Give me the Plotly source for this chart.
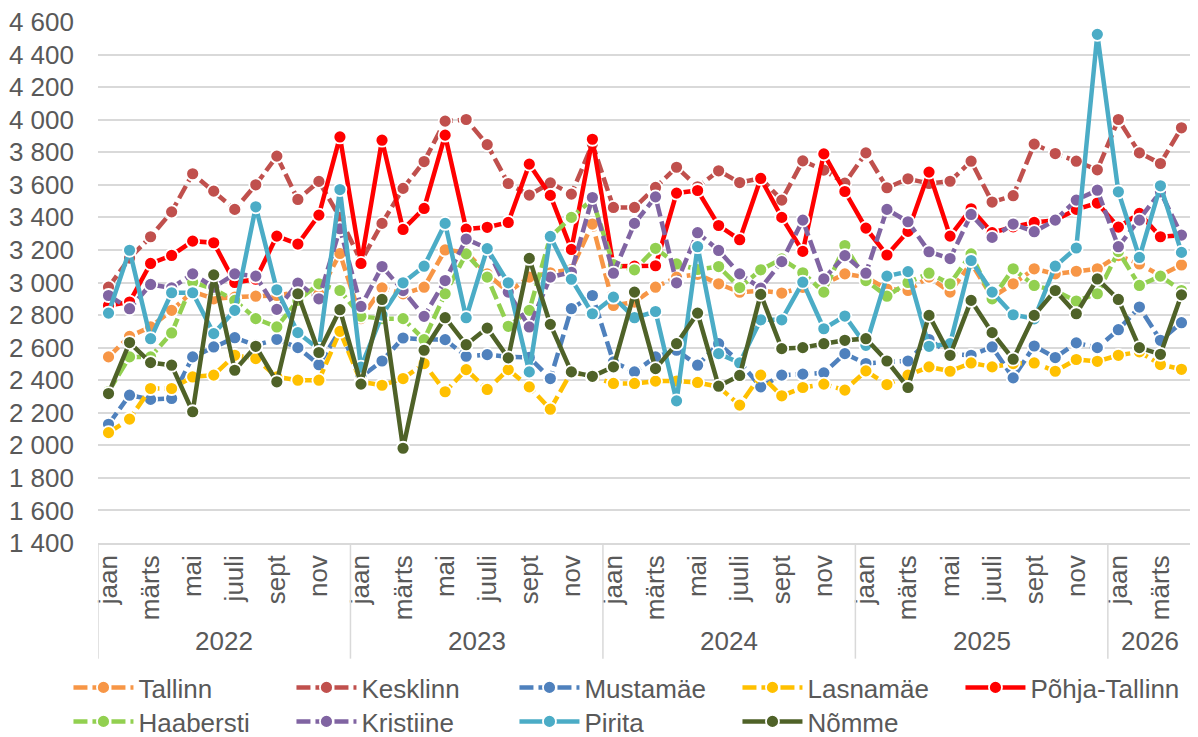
import plotly.graph_objects as go

month_names = ["jaan", "veebr", "märts", "apr", "mai", "juuni", "juuli", "aug", "sept", "okt", "nov", "dets"]
years = ["2022", "2023", "2024", "2025", "2026"]
months_per_year = [12, 12, 12, 12, 4]

tallinn = [2543, 2669, 2727, 2829, 2945, 2900, 2910, 2916, 2920, 2940, 2930, 3178,
           2778, 2967, 2930, 2971, 3200, 3186, 3053, 2941, 3033, 3060, 3080, 3359,
           2859, 2880, 2971, 3033, 3050, 2992, 2940, 2950, 2935, 2970, 2990, 3053,
           3033, 2960, 2951, 3033, 2941, 3120, 2910, 2992, 3084, 3053, 3069, 3084,
           3165, 3114, 3043, 3108]
kesklinn = [2971, 3150, 3281, 3434, 3668, 3561, 3449, 3600, 3776, 3510, 3621, 3400,
            3130, 3363, 3578, 3743, 3991, 4001, 3847, 3608, 3537, 3612, 3543, 3850,
            3461, 3461, 3584, 3708, 3588, 3686, 3614, 3640, 3506, 3747, 3690, 3610,
            3796, 3582, 3637, 3608, 3622, 3745, 3494, 3533, 3850, 3792, 3745, 3692,
            4001, 3796, 3731, 3950]
mustamae = [2129, 2308, 2282, 2288, 2543, 2604, 2661, 2615, 2651, 2600, 2495, 2706,
            2420, 2518, 2659, 2650, 2649, 2547, 2557, 2543, 2540, 2410, 2839, 2920,
            2512, 2451, 2543, 2584, 2492, 2624, 2512, 2359, 2431, 2437, 2445, 2563,
            2502, 2512, 2518, 2650, 2560, 2553, 2604, 2414, 2610, 2539, 2629, 2600,
            2710, 2849, 2645, 2753]
lasnamae = [2078, 2161, 2349, 2349, 2420, 2431, 2553, 2533, 2420, 2400, 2400, 2700,
            2390, 2369, 2410, 2502, 2329, 2465, 2343, 2465, 2359, 2222, 2450, 2420,
            2380, 2380, 2394, 2395, 2386, 2359, 2247, 2431, 2304, 2355, 2376, 2339,
            2457, 2373, 2431, 2482, 2455, 2506, 2482, 2502, 2506, 2455, 2527, 2516,
            2553, 2574, 2496, 2467]
pohja = [2859, 2880, 3117, 3166, 3254, 3244, 3000, 3020, 3285, 3236, 3414, 3894,
         3117, 3874, 3326, 3455, 3905, 3328, 3339, 3369, 3727, 3535, 3203, 3880,
         3100, 3100, 3103, 3549, 3565, 3350, 3263, 3639, 3400, 3191, 3790, 3559,
         3334, 3169, 3314, 3678, 3285, 3453, 3306, 3342, 3369, 3383, 3449, 3488,
         3340, 3424, 3281, 3290]
haabersti = [2330, 2543, 2543, 2690, 3002, 2960, 2890, 2778, 2727, 2890, 2992, 2951,
             2792, 2778, 2778, 2649, 2931, 3176, 3033, 2731, 2829, 3280, 3400, 3510,
             3110, 3078, 3210, 3114, 3080, 3098, 2969, 3078, 3145, 3060, 2941, 3227,
             3012, 2916, 3000, 3057, 2992, 3176, 2900, 3084, 2982, 2950, 2886, 2931,
             3190, 2982, 3039, 2951]
kristiine = [2920, 2839, 2988, 2967, 3053, 2971, 3053, 3039, 2835, 2996, 2900, 3330,
             2853, 3098, 2950, 2792, 3012, 3267, 3210, 2941, 2727, 3033, 3063, 3522,
             3057, 3363, 3526, 2998, 3306, 3197, 3053, 2965, 3128, 3383, 3022, 3165,
             3057, 3449, 3373, 3189, 3147, 3418, 3277, 3359, 3312, 3383, 3506, 3567,
             3220, 3383, 3557, 3291]
pirita = [2812, 3198, 2655, 2937, 2937, 2686, 2829, 3465, 2955, 2692, 2590, 3571,
          2480, 2800, 2998, 3100, 3363, 2784, 3208, 2998, 2451, 3283, 3020, 2808,
          2910, 2784, 2822, 2273, 3220, 2563, 2506, 2771, 2771, 3002, 2716, 2794,
          2614, 3039, 3067, 2608, 2624, 3135, 2941, 2802, 2777, 3100, 3212, 4524,
          3557, 3154, 3594, 3185]
nomme = [2318, 2631, 2508, 2492, 2206, 3047, 2461, 2608, 2390, 2931, 2570, 2833,
         2376, 2896, 1982, 2584, 2784, 2618, 2720, 2537, 3148, 2743, 2451, 2424,
         2482, 2941, 2471, 2624, 2812, 2363, 2429, 2927, 2594, 2600, 2624, 2645,
         2655, 2518, 2355, 2798, 2553, 2890, 2692, 2529, 2798, 2951, 2808, 3022,
         2896, 2600, 2559, 2924]

series = [
    ("Tallinn", tallinn, "#F79646", "dash", "legend"),
    ("Kesklinn", kesklinn, "#C0504D", "dash", "legend"),
    ("Mustamäe", mustamae, "#4F81BD", "dash", "legend"),
    ("Lasnamäe", lasnamae, "#FFC000", "dash", "legend"),
    ("Põhja-Tallinn", pohja, "#FF0000", "solid", "legend"),
    ("Haabersti", haabersti, "#92D050", "dash", "legend2"),
    ("Kristiine", kristiine, "#8064A2", "dash", "legend2"),
    ("Pirita", pirita, "#4BACC6", "solid", "legend2"),
    ("Nõmme", nomme, "#4F6228", "solid", "legend2"),
]

# build period index
month_labels = []
for y, n in zip(years, months_per_year):
    for m in range(n):
        month_labels.append(month_names[m])
x = list(range(len(month_labels)))

fig = go.Figure()
for name, vals, color, dash, lg in series:
    fig.add_trace(go.Scatter(
        x=x, y=vals, name=name, mode="lines+markers", legend=lg,
        line=dict(color=color, width=4.5, dash=("14px,5px" if dash == "dash" else "solid")),
        marker=dict(size=13, color=color, line=dict(color="white", width=1.8)),
    ))

font_family = "Liberation Sans, Arial, sans-serif"
grey = "#595959"
FS = 26

# year group labels and separators
start = 0
shapes = []
annotations = []
for y, n in zip(years, months_per_year):
    annotations.append(dict(x=start + (n - 1) / 2, y=-0.188, xref="x", yref="paper",
                            text=y, showarrow=False, yanchor="middle",
                            font=dict(size=FS, color=grey, family=font_family)))
    shapes.append(dict(type="line", xref="x", yref="paper", x0=start - 0.5, x1=start - 0.5,
                       y0=0, y1=-0.222, line=dict(color="#D9D9D9", width=1.5)))
    start += n
shapes.append(dict(type="line", xref="x", yref="paper", x0=start - 0.5, x1=start - 0.5,
                   y0=0, y1=-0.222, line=dict(color="#D9D9D9", width=1.5)))

legend_common = dict(orientation="h", xanchor="left", yanchor="top",
                     entrywidth=148, entrywidthmode="pixels", itemwidth=60,
                     font=dict(size=FS, color=grey, family=font_family),
                     bgcolor="rgba(0,0,0,0)")

# the page body has an 8px margin, so the figure is offset by 8px in the window
fig.update_layout(
    width=1190, height=729,
    margin=dict(l=90, r=6, t=14, b=194, autoexpand=False),
    paper_bgcolor="white", plot_bgcolor="white",
    separators=", ",
    font=dict(family=font_family, color=grey),
    showlegend=True,
    legend=dict(x=-0.027, y=-0.2322, **legend_common),
    legend2=dict(x=-0.027, y=-0.2975, **legend_common),
    shapes=shapes, annotations=annotations,
)
fig.update_xaxes(range=[-0.5, len(x) - 0.5], tickmode="array",
                 tickvals=x[::2], ticktext=month_labels[::2], tickangle=-90,
                 tickfont=dict(size=FS, color=grey, family=font_family),
                 showgrid=False, zeroline=False, showline=True,
                 linecolor="#D9D9D9", linewidth=1.5, ticks="", ticklabelstandoff=0)
fig.update_yaxes(range=[1400, 4600], dtick=200, tick0=1400, tickformat=",d",
                 tickfont=dict(size=FS, color=grey, family=font_family),
                 showgrid=True, gridcolor="#D9D9D9", gridwidth=1.5,
                 zeroline=False, showline=False, ticks="", ticklabelstandoff=23,
                 ticklabeloverflow="allow")

fig.write_html("out.html")
